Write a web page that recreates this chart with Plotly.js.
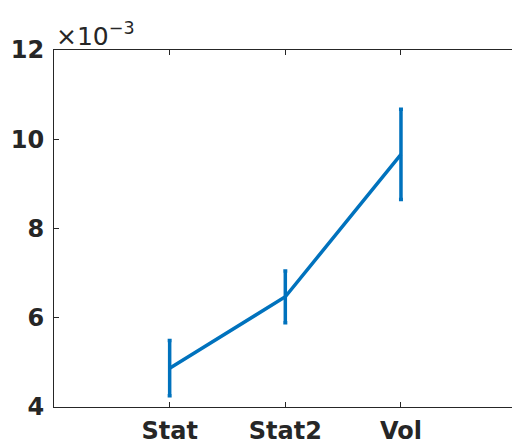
<!DOCTYPE html>
<html><head><meta charset="utf-8">
<script src="https://cdn.plot.ly/plotly-3.0.1.min.js"></script>
<style>html,body{margin:0;padding:0;background:#fff}</style>
</head><body>
<div id="chart" style="width:512px;height:446px"></div>
<script>
const categories = ["Stat", "Stat2", "Vol"];
const xPos = [1, 2, 3];
const meanValues = [0.00487, 0.00647, 0.00966];
const errValues = [0.00062, 0.00058, 0.00101];
const yTicks = [0.004, 0.006, 0.008, 0.010, 0.012];
const yTickLabels = ["4", "6", "8", "10", "12"];

const trace = {
  x: xPos, y: meanValues, type: 'scatter', mode: 'lines',
  line: {color: '#0072BD', width: 3.5},
  error_y: {type: 'data', array: errValues, visible: true, color: '#0072BD', thickness: 3.5, width: 2}
};
const layout = {
  width: 512, height: 446,
  margin: {l: 54, r: 0, t: 50, b: 39},
  paper_bgcolor: '#fff', plot_bgcolor: '#fff',
  showlegend: false,
  xaxis: {range: [0, 3.96], tickvals: xPos, ticktext: categories,
    tickfont: {family: 'DejaVu Sans, sans-serif', size: 24, color: '#262626', weight: 'bold'},
    showgrid: false, zeroline: false, showline: true, linecolor: '#262626', linewidth: 1,
    ticks: 'inside', ticklen: 5, tickcolor: '#262626', mirror: 'ticks', ticklabelstandoff: 2},
  yaxis: {range: [0.004, 0.012], tickvals: yTicks, ticktext: yTickLabels,
    tickfont: {family: 'DejaVu Sans, sans-serif', size: 24, color: '#262626', weight: 'bold'},
    showgrid: false, zeroline: false, showline: true, linecolor: '#262626', linewidth: 1,
    ticks: 'inside', ticklen: 5, tickcolor: '#262626', ticklabelstandoff: 4},
  annotations: [{xref: 'paper', yref: 'paper', x: 0, y: 1, xanchor: 'left', yanchor: 'bottom',
    xshift: 0, yshift: -3, showarrow: false, text: '×10<sup>−3</sup>',
    font: {family: 'DejaVu Sans, sans-serif', size: 25, color: '#262626'}}]
};
Plotly.newPlot('chart', [trace], layout, {displayModeBar: false, staticPlot: true});
</script>
</body></html>
